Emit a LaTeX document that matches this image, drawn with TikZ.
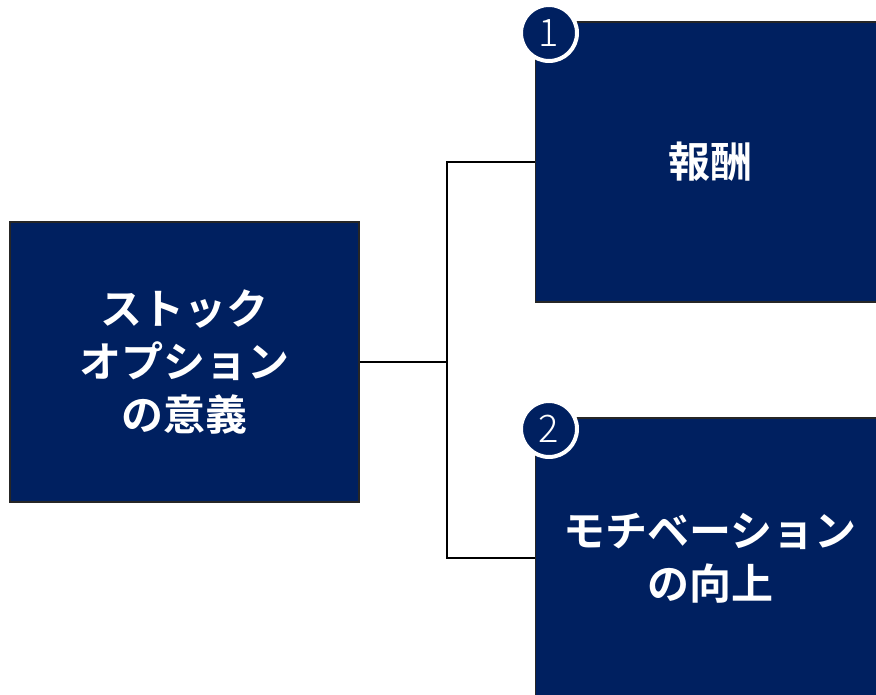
\documentclass[tikz,border=0pt]{standalone}
\usepackage{fontspec}
\setmainfont{Noto Sans CJK JP}[BoldFont=* Bold]
\newfontfamily\numfont{Noto Sans CJK JP Light}
\definecolor{navy}{HTML}{002060}
\tikzset{
  box/.style={rectangle, fill=navy, draw=black!85, line width=1.2pt,
    minimum width=349pt, minimum height=280pt, text=white, align=center,
    font=\bfseries\fontsize{42}{53}\selectfont, inner sep=0pt},
  badge/.style={circle, fill=navy, draw=white, line width=4pt,
    minimum size=56pt, inner sep=0pt, text=white, font=\numfont\fontsize{38}{38}\selectfont},
  link/.style={draw=black, line width=1.3pt}
}
\begin{document}
\begin{tikzpicture}[x=1pt,y=1pt]
\useasboundingbox (0,0) rectangle (876,695);
\clip (0,0) rectangle (876,695);
\fill[white] (0,0) rectangle (876,695);
\node[box] (main) at (184.5,333) {ストック\\オプション\\の意義};
\node[box] (b1) at (710,533) {報酬};
\node[box] (b2) at (710,137) {モチベーション\\の向上};
\coordinate (j) at (447,333);
\draw[link] (main.east) -- (j) |- (b1.west);
\draw[link] (j) |- (b2.west);
\node[badge] (n1) at (549,662) {1};
\node[badge] (n2) at (549,266) {2};
\end{tikzpicture}
\end{document}
